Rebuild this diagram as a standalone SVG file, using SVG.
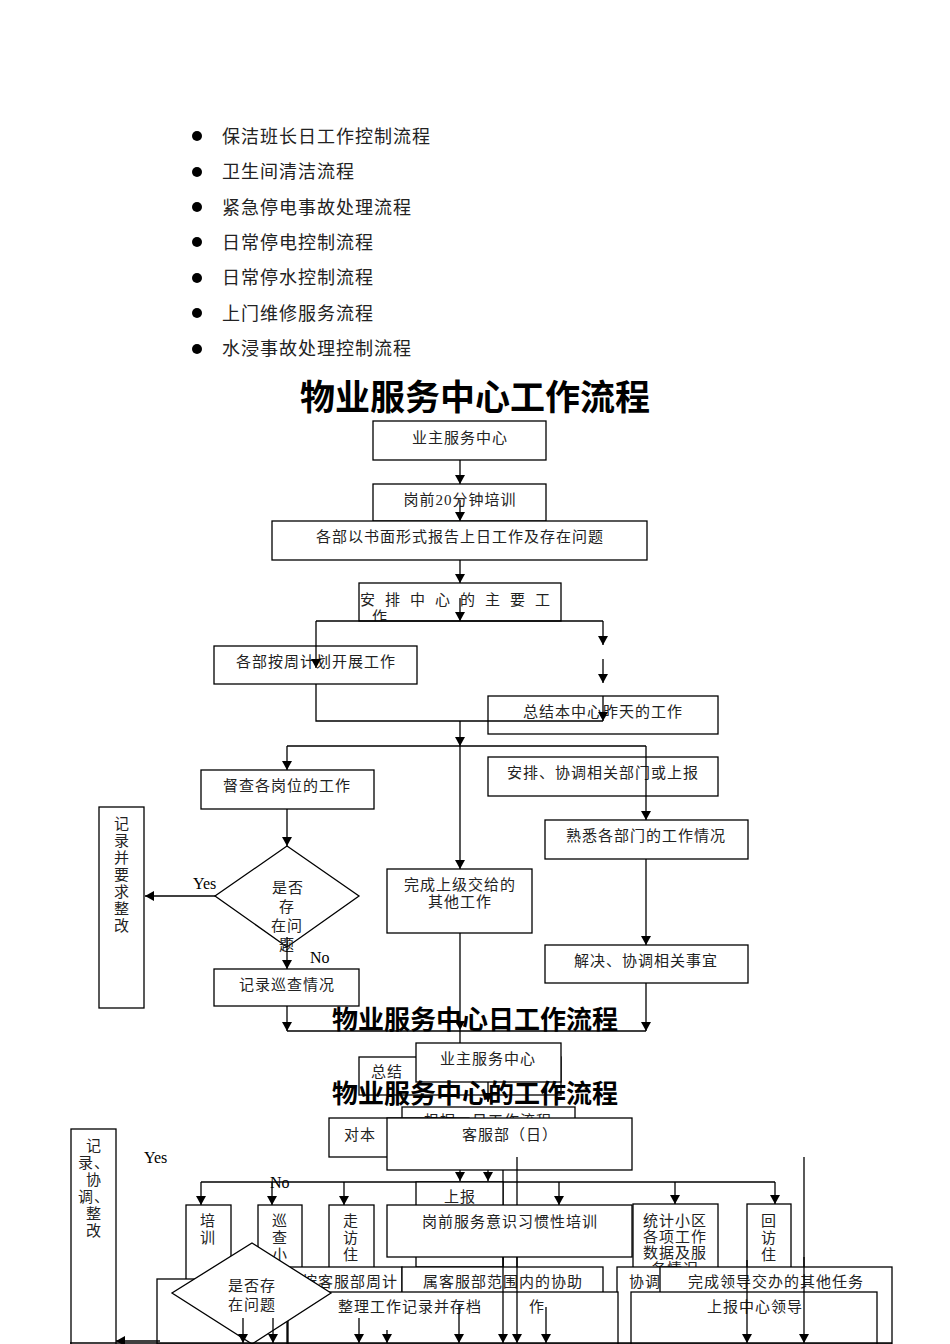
<svg xmlns="http://www.w3.org/2000/svg" width="950" height="1344" viewBox="0 0 950 1344">
<style>
.b{fill:#fff;stroke:#000;stroke-width:1.3}
.t{font-family:"Liberation Serif","Noto Sans CJK SC",serif;font-size:15px;fill:#222;text-anchor:middle;letter-spacing:1px}
.l{font-family:"Liberation Serif","Noto Sans CJK SC",serif;font-size:18px;fill:#222;letter-spacing:1px}
.h{font-family:"Liberation Serif","Noto Sans CJK SC",serif;font-weight:bold;fill:#000;text-anchor:middle}
.lb{font-family:"Liberation Serif","Noto Sans CJK SC",serif;font-size:16px;fill:#000}
.c line,.c polyline{stroke:#000;stroke-width:1.3;fill:none}
.a{marker-end:url(#ah)}
</style>
<defs>
<marker id="ah" viewBox="0 0 10 10" refX="10" refY="5" markerWidth="9" markerHeight="10" markerUnits="userSpaceOnUse" orient="auto" preserveAspectRatio="none"><path d="M0,0 L10,5 L0,10 z" fill="#000"/></marker>
<clipPath id="cp4"><rect x="359" y="583" width="202" height="38"/></clipPath>
</defs>
<rect width="950" height="1344" fill="#fff"/>

<g id="list">
<circle cx="197" cy="136" r="5"/><text class="l" x="222" y="143">保洁班长日工作控制流程</text>
<circle cx="197" cy="172" r="5"/><text class="l" x="222" y="178">卫生间清洁流程</text>
<circle cx="197" cy="207" r="5"/><text class="l" x="222" y="214">紧急停电事故处理流程</text>
<circle cx="197" cy="242" r="5"/><text class="l" x="222" y="249">日常停电控制流程</text>
<circle cx="197" cy="278" r="5"/><text class="l" x="222" y="284">日常停水控制流程</text>
<circle cx="197" cy="313" r="5"/><text class="l" x="222" y="320">上门维修服务流程</text>
<circle cx="197" cy="349" r="5"/><text class="l" x="222" y="355">水浸事故处理控制流程</text>
</g>

<text id="title1" class="h" x="475" y="410" font-size="35">物业服务中心工作流程</text>

<g id="n1"><rect class="b" x="373" y="421" width="173" height="39"/><text class="t" x="460" y="443">业主服务中心</text></g>
<g class="c"><line class="a" x1="460" y1="460" x2="460" y2="484"/></g>
<g id="n2"><rect class="b" x="373" y="484" width="173" height="37"/><text class="t" x="460" y="505">岗前20分钟培训</text></g>
<g class="c"><line class="a" x1="460" y1="500" x2="460" y2="521"/></g>
<g id="n3"><rect class="b" x="272" y="521" width="375" height="39"/><text class="t" x="460" y="542">各部以书面形式报告上日工作及存在问题</text></g>
<g class="c"><line class="a" x1="460" y1="560" x2="460" y2="583"/></g>
<g id="n4"><rect class="b" x="359" y="583" width="202" height="38"/>
<text class="t" x="460" y="605" style="letter-spacing:10px">安排中心的主要工</text>
<text class="t" x="380" y="622" clip-path="url(#cp4)">作</text></g>
<g id="n5"><rect class="b" x="214" y="646" width="203" height="38"/><text class="t" x="316" y="667">各部按周计划开展工作</text></g>
<g id="n6"><rect class="b" x="488" y="696" width="230" height="38"/><text class="t" x="603" y="717">总结本中心昨天的工作</text></g>
<g id="n8"><rect class="b" x="488" y="757" width="230" height="39"/><text class="t" x="603" y="778">安排、协调相关部门或上报</text></g>
<g class="c">
<line class="a" x1="460" y1="598" x2="460" y2="621"/>
<line x1="316" y1="621" x2="603" y2="621"/>
<line class="a" x1="316" y1="621" x2="316" y2="668"/>
<line class="a" x1="603" y1="621" x2="603" y2="645"/>
<line class="a" x1="603" y1="659" x2="603" y2="683"/>
<polyline points="316,684 316,721 603,721"/>
<line class="a" x1="603" y1="696" x2="603" y2="721"/>
<line class="a" x1="460" y1="721" x2="460" y2="746"/>
<line x1="287" y1="746" x2="646" y2="746"/>
<line class="a" x1="287" y1="746" x2="287" y2="770"/>
<line class="a" x1="646" y1="746" x2="646" y2="820"/>
<line class="a" x1="460" y1="746" x2="460" y2="869"/>
</g>
<g id="n7"><rect class="b" x="201" y="770" width="173" height="39"/><text class="t" x="287" y="791">督查各岗位的工作</text></g>
<g id="n9"><rect class="b" x="387" y="869" width="145" height="64"/><text class="t" x="460" y="890">完成上级交给的</text><text class="t" x="460" y="907">其他工作</text></g>
<g id="n10"><rect class="b" x="545" y="820" width="203" height="39"/><text class="t" x="646" y="841">熟悉各部门的工作情况</text></g>
<g id="n11"><rect class="b" x="545" y="945" width="203" height="38"/><text class="t" x="646" y="966">解决、协调相关事宜</text></g>
<g id="d1"><polygon class="b" points="287,846 359,896 287,947 215,896"/>
<text class="t" x="288" y="893">是否</text><text class="t" x="287" y="912">存</text><text class="t" x="287" y="931">在问</text><text class="t" x="287" y="950">题</text></g>
<g id="n12"><rect class="b" x="99" y="807" width="45" height="201"/>
<text class="t" x="122" y="829">记</text><text class="t" x="122" y="846">录</text><text class="t" x="122" y="863">并</text><text class="t" x="122" y="880">要</text><text class="t" x="122" y="897">求</text><text class="t" x="122" y="914">整</text><text class="t" x="122" y="931">改</text></g>
<g id="n13"><rect class="b" x="214" y="969" width="145" height="37"/><text class="t" x="287" y="990">记录巡查情况</text></g>
<text class="lb" x="193" y="889">Yes</text>
<text class="lb" x="310" y="963">No</text>
<g class="c">
<line class="a" x1="646" y1="859" x2="646" y2="945"/>
<line class="a" x1="646" y1="983" x2="646" y2="1031"/>
<line class="a" x1="287" y1="809" x2="287" y2="846"/>
<line class="a" x1="215" y1="896" x2="145" y2="896"/>
<line class="a" x1="287" y1="937" x2="287" y2="969"/>
<line class="a" x1="287" y1="1006" x2="287" y2="1031"/>
<line x1="287" y1="1031" x2="646" y2="1031"/>
<line class="a" x1="460" y1="933" x2="460" y2="1030"/>
<line x1="460" y1="1030" x2="460" y2="1043"/>
</g>
<text id="title2" class="h" x="475" y="1029" font-size="26">物业服务中心日工作流程</text>

<g id="n14"><rect class="b" x="359" y="1057" width="202" height="38"/><text class="t" x="387" y="1077">总结</text></g>
<g id="n15"><rect class="b" x="416" y="1043" width="145" height="39"/><text class="t" x="488" y="1064">业主服务中心</text></g>
<g class="c"><line class="a" x1="488" y1="1082" x2="488" y2="1102"/></g>
<text id="title3" class="h" x="475" y="1103" font-size="26">物业服务中心的工作流程</text>
<g id="n16"><rect class="b" x="402" y="1107" width="173" height="40"/><text class="t" x="488" y="1126">根据一日工作流程</text></g>
<g id="n17"><rect class="b" x="329" y="1118" width="140" height="39"/><text class="t" x="360" y="1140">对本</text></g>
<g id="n18"><rect class="b" x="387" y="1118" width="245" height="52"/><text class="t" x="510" y="1140">客服部（日）</text></g>
<g id="n19"><rect class="b" x="71" y="1129" width="45" height="216"/>
<text class="t" x="94" y="1151">记</text><text class="t" x="94" y="1168">录、</text><text class="t" x="94" y="1185">协</text><text class="t" x="94" y="1202">调、</text><text class="t" x="94" y="1219">整</text><text class="t" x="94" y="1236">改</text></g>
<text class="lb" x="144" y="1163">Yes</text>
<g class="c">
<line x1="517" y1="1157" x2="517" y2="1344"/>
<line class="a" x1="804" y1="1157" x2="804" y2="1342"/>
<line class="a" x1="460" y1="1170" x2="460" y2="1181"/>
<line class="a" x1="488" y1="1170" x2="488" y2="1181"/>
<line x1="503" y1="1170" x2="503" y2="1344"/>
<line x1="201" y1="1182" x2="775" y2="1182"/>
<line class="a" x1="201" y1="1182" x2="201" y2="1205"/>
<line class="a" x1="272" y1="1182" x2="272" y2="1205"/>
<line class="a" x1="344" y1="1182" x2="344" y2="1205"/>
<line class="a" x1="431" y1="1182" x2="431" y2="1205"/>
<line class="a" x1="559" y1="1182" x2="559" y2="1205"/>
<line class="a" x1="675" y1="1182" x2="675" y2="1204"/>
<line class="a" x1="775" y1="1182" x2="775" y2="1204"/>
</g>
<text class="lb" x="270" y="1188">No</text>
<g id="n20"><rect class="b" x="186" y="1205" width="45" height="139"/><text class="t" x="208" y="1226">培</text><text class="t" x="208" y="1243">训</text></g>
<g id="n21"><rect class="b" x="258" y="1205" width="44" height="139"/><text class="t" x="280" y="1226">巡</text><text class="t" x="280" y="1243">查</text><text class="t" x="280" y="1260">小</text></g>
<g id="n22"><rect class="b" x="329" y="1205" width="45" height="139"/><text class="t" x="351" y="1226">走</text><text class="t" x="351" y="1243">访</text><text class="t" x="351" y="1260">住</text></g>
<g id="n23"><rect class="b" x="416" y="1182" width="87" height="85"/><text class="t" x="460" y="1202">上报</text></g>
<g id="n24"><rect class="b" x="387" y="1205" width="245" height="52"/><text class="t" x="510" y="1227">岗前服务意识习惯性培训</text></g>
<g id="n25"><rect class="b" x="633" y="1204" width="85" height="140"/><text class="t" x="675" y="1226">统计小区</text><text class="t" x="675" y="1242">各项工作</text><text class="t" x="675" y="1258">数据及服</text><text class="t" x="675" y="1274">务情况</text></g>
<g id="n26"><rect class="b" x="747" y="1204" width="44" height="140"/><text class="t" x="769" y="1226">回</text><text class="t" x="769" y="1243">访</text><text class="t" x="769" y="1260">住</text></g>
<g id="n27"><rect class="b" x="157" y="1279" width="130" height="65"/></g>
<g id="n28"><rect class="b" x="288" y="1267" width="114" height="77"/><text class="t" x="350" y="1287">按客服部周计</text></g>
<g id="n29"><rect class="b" x="402" y="1267" width="201" height="77"/><text class="t" x="503" y="1287">属客服部范围内的协助</text></g>
<g id="n30"><rect class="b" x="617" y="1267" width="60" height="77"/><text class="t" x="645" y="1287">协调</text></g>
<g id="n31"><rect class="b" x="660" y="1267" width="232" height="77"/><text class="t" x="776" y="1287">完成领导交办的其他任务</text></g>
<g id="n32"><rect class="b" x="288" y="1292" width="330" height="52"/><text class="t" x="410" y="1312">整理工作记录并存档</text><text class="t" x="537" y="1312">作</text></g>
<g id="n33"><rect class="b" x="631" y="1292" width="246" height="52"/><text class="t" x="755" y="1312">上报中心领导</text></g>
<g id="d2"><polygon class="b" points="252,1243 331,1293 252,1344 172,1293"/><text class="t" x="252" y="1291">是否存</text><text class="t" x="252" y="1310">在问题</text></g>
<g class="c">
<line class="a" x1="243" y1="1318" x2="243" y2="1343"/>
<line class="a" x1="273" y1="1318" x2="273" y2="1343"/>
<line class="a" x1="359" y1="1318" x2="359" y2="1343"/>
<line class="a" x1="387" y1="1330" x2="387" y2="1343"/>
<line class="a" x1="459" y1="1305" x2="459" y2="1343"/>
<line class="a" x1="503" y1="1257" x2="503" y2="1343"/>
<line class="a" x1="517" y1="1257" x2="517" y2="1343"/>
<line class="a" x1="546" y1="1307" x2="546" y2="1343"/>
<line class="a" x1="747" y1="1260" x2="747" y2="1343"/>
<line class="a" x1="804" y1="1257" x2="804" y2="1343"/>
<line x1="70" y1="1343" x2="892" y2="1343" stroke-width="2"/>
<line class="a" x1="160" y1="1341" x2="116" y2="1341"/>
</g>
</svg>
